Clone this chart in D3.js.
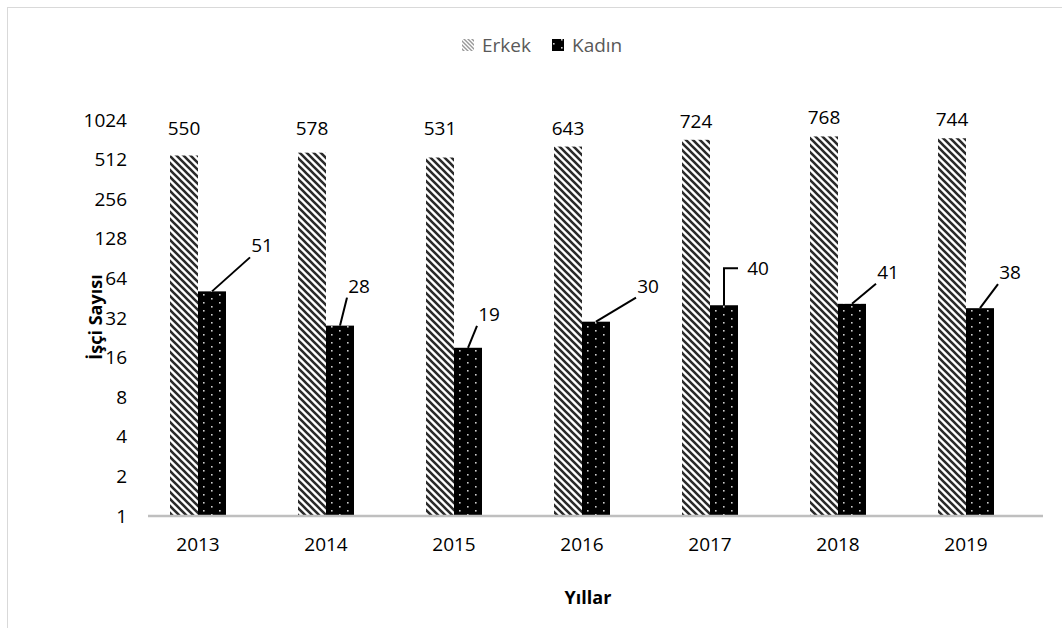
<!DOCTYPE html>
<meta charset="utf-8">
<style>
  body { margin: 0; background: #fff; }
  text { font-family: "Open Sans", sans-serif; }
</style>
<svg width="1062" height="628"></svg>
<script src="https://d3js.org/d3.v7.min.js"></script>
<script>

var years = ["2013", "2014", "2015", "2016", "2017", "2018", "2019"];
var erkek = [550, 578, 531, 643, 724, 768, 744];
var kadin = [51, 28, 19, 30, 40, 41, 38];
var yTicks = [1, 2, 4, 8, 16, 32, 64, 128, 256, 512, 1024];
var seriesNames = ["Erkek", "Kadın"];

// label offsets for the Kadın data labels (leader lines), layout only
var kadinLabelDx = [50, 19, 21, 52, 34, 36, 30];
var kadinLabelDy = [-46, -40, -34, -36, -37, -32, -36];

var svg = d3.select("svg");

// chart border
svg.append("rect")
    .attr("x", 7.5).attr("y", 7.5)
    .attr("width", 1070).attr("height", 640)
    .attr("fill", "#fff")
    .attr("stroke", "#d9d9d9");

var defs = svg.append("defs");

var hatch = defs.append("pattern")
    .attr("id", "hatch")
    .attr("patternUnits", "userSpaceOnUse")
    .attr("width", 7).attr("height", 7);
hatch.append("rect").attr("width", 7).attr("height", 7).attr("fill", "#fff");
hatch.append("path")
    .attr("d", "M-2,-2 L9,9 M-9,-2 L2,9 M5,-2 L16,9")
    .attr("stroke", "#2a2a2a")
    .attr("stroke-width", 2.6);

var hatchLight = defs.append("pattern")
    .attr("id", "hatchLight")
    .attr("patternUnits", "userSpaceOnUse")
    .attr("width", 4).attr("height", 4);
hatchLight.append("rect").attr("width", 4).attr("height", 4).attr("fill", "#fff");
hatchLight.append("path")
    .attr("d", "M-1,-1 L5,5 M-5,-1 L1,5 M3,-1 L9,5")
    .attr("stroke", "#999")
    .attr("stroke-width", 1.4);

var dots = defs.append("pattern")
    .attr("id", "dots")
    .attr("patternUnits", "userSpaceOnUse")
    .attr("width", 16).attr("height", 8);
dots.append("rect").attr("width", 16).attr("height", 8).attr("fill", "#000");
dots.append("rect").attr("x", 3).attr("y", 2).attr("width", 1.6).attr("height", 1.6).attr("fill", "#ccc");
dots.append("rect").attr("x", 11).attr("y", 6).attr("width", 1.6).attr("height", 1.6).attr("fill", "#ccc");

var x = d3.scaleBand().domain(years).range([134, 1030]).paddingInner(0);
var y = d3.scaleLog().base(2).domain([1, 1024]).range([516, 120]);
var barW = 28;

// y tick labels
var yAxis = d3.axisLeft(y).tickValues(yTicks).tickFormat(d3.format("d")).tickSize(0).tickPadding(0);
var gy = svg.append("g").attr("transform", "translate(127,0)").call(yAxis);
gy.select(".domain").remove();
gy.selectAll("text").attr("font-size", 19).attr("fill", "#000")
    .style("font-family", "'Open Sans', sans-serif");

// x axis
var xAxis = d3.axisBottom(x).tickSize(0).tickPadding(22);
var gx = svg.append("g").attr("transform", "translate(0,516)").call(xAxis);
gx.select(".domain").remove();
gx.selectAll("text").attr("font-size", 19).attr("fill", "#000")
    .style("font-family", "'Open Sans', sans-serif");

// bars
svg.append("g").selectAll("rect")
    .data(erkek)
    .join("rect")
    .attr("x", function(d, i) { return x(years[i]) + x.bandwidth() / 2 - barW; })
    .attr("y", function(d) { return y(d); })
    .attr("width", barW)
    .attr("height", function(d) { return y(1) - y(d); })
    .attr("fill", "url(#hatch)");

svg.append("g").selectAll("rect")
    .data(kadin)
    .join("rect")
    .attr("x", function(d, i) { return x(years[i]) + x.bandwidth() / 2; })
    .attr("y", function(d) { return y(d); })
    .attr("width", barW)
    .attr("height", function(d) { return y(1) - y(d); })
    .attr("fill", "url(#dots)");

// baseline
svg.append("line")
    .attr("x1", 148).attr("x2", 1043)
    .attr("y1", y(1)).attr("y2", y(1))
    .attr("stroke", "#bfbfbf")
    .attr("stroke-width", 2.5);

// Erkek data labels
svg.append("g").selectAll("text")
    .data(erkek)
    .join("text")
    .attr("x", function(d, i) { return x(years[i]) + x.bandwidth() / 2 - barW / 2; })
    .attr("y", function(d) { return Math.min(y(d) - 19, 128) + 7; })
    .attr("text-anchor", "middle")
    .attr("font-size", 19)
    .text(function(d) { return d; });

// Kadın data labels with leader lines
var kl = svg.append("g");
kadin.forEach(function(d, i) {
  var cx = x(years[i]) + x.bandwidth() / 2 + barW / 2;
  var top = y(d);
  var lx = cx + kadinLabelDx[i], ly = top + kadinLabelDy[i];
  if (i === 4) {
    kl.append("path")
      .attr("d", "M" + cx + "," + top + " V" + ly + " H" + (lx - 20))
      .attr("fill", "none").attr("stroke", "#000").attr("stroke-width", 2);
  } else {
    kl.append("line")
      .attr("x1", cx).attr("y1", top)
      .attr("x2", lx - 12).attr("y2", ly + 12)
      .attr("stroke", "#000").attr("stroke-width", 2);
  }
  kl.append("text")
    .attr("x", lx).attr("y", ly + 7)
    .attr("text-anchor", "middle")
    .attr("font-size", 19)
    .text(d);
});

// axis titles
svg.append("text")
    .attr("transform", "translate(102,317) rotate(-90)")
    .attr("text-anchor", "middle")
    .attr("font-size", 18).attr("font-weight", "bold")
    .text("İşçi Sayısı");

svg.append("text")
    .attr("x", 588).attr("y", 604)
    .attr("text-anchor", "middle")
    .attr("font-size", 18).attr("font-weight", "bold")
    .text("Yıllar");

// legend
var legend = svg.append("g").attr("transform", "translate(462,45)");
var lx0 = [0, 90];
seriesNames.forEach(function(name, i) {
  legend.append("rect")
    .attr("x", lx0[i]).attr("y", -6)
    .attr("width", 12).attr("height", 12)
    .attr("fill", i === 0 ? "url(#hatchLight)" : "url(#dots)");
  legend.append("text")
    .attr("x", lx0[i] + 20).attr("y", 7)
    .attr("font-size", 19).attr("fill", "#595959")
    .text(name);
});

</script>
